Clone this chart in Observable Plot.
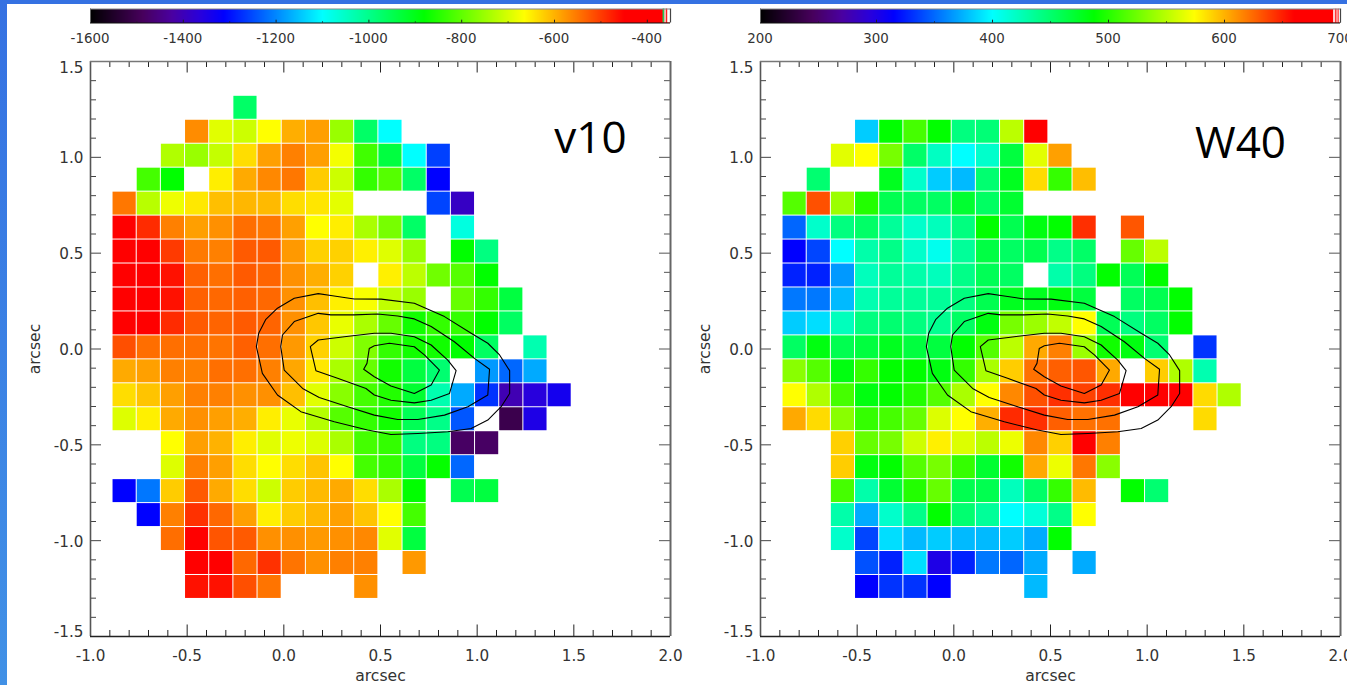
<!DOCTYPE html>
<html><head><meta charset="utf-8">
<script src="https://cdn.jsdelivr.net/npm/d3@7"></script>
<script src="https://cdn.jsdelivr.net/npm/@observablehq/plot@0.6"></script>
<style>
html,body{margin:0;padding:0;background:#fff;width:1347px;height:685px;overflow:hidden}
#stage{position:relative;width:1347px;height:685px;background:#fff}
#topband{position:absolute;left:0;top:0;width:1347px;height:4px;background:#3571e2}
#leftband{position:absolute;left:0;top:0;width:7px;height:685px;background:linear-gradient(#3571e2,#4191e6)}
svg{position:absolute;overflow:visible;background:transparent}
</style></head><body><div id="stage"><div id="topband"></div><div id="leftband"></div></div>
<script>
const _ = null;
// cell grid: left edge of each column, top edge of each row (arcsec), cell pitch 0.125
const colLeft = [-0.886,-0.761,-0.636,-0.511,-0.386,-0.261,-0.136,-0.011,0.114,0.239,0.364,0.489,0.614,0.739,0.864,0.989,1.114,1.239,1.364];
const rowTop = [1.321,1.196,1.071,0.946,0.821,0.696,0.571,0.446,0.321,0.196,0.071,-0.054,-0.179,-0.304,-0.429,-0.554,-0.679,-0.804,-0.929,-1.054,-1.179];
const cellSize = 0.125;

const v10 = [
[_,_,_,_,_,-969],
[_,_,_,-568,-690,-708,-665,-597,-584,-751,-969,-1100],
[_,_,-732,-751,-715,-636,-584,-558,-584,-674,-827,-936,-1100,-1259],
[_,-823,-881,_,-651,-593,-565,-550,-622,-708,-838,-809,-969,-1312],
[-550,-725,-679,-646,-611,-604,-607,-636,-644,-688,_,_,_,-1256,-1388],
[-430,-486,-558,-584,-571,-543,-550,-585,-665,-651,-737,-780,-969,_,-1073],
[-430,-430,-499,-553,-558,-526,-526,-579,-626,-626,-652,-692,-751,_,-881,-991],
[-430,-430,-464,-531,-544,-526,-534,-571,-597,-626,_,-652,-722,-786,-809,-881],
[-430,-430,-464,-531,-538,-531,-538,-571,-611,-652,-671,-718,-751,_,-795,-838,-936],
[-430,-430,-486,-526,-534,-526,-534,-571,-618,-684,-737,-795,-867,-838,-838,-881,-964],
[-517,-543,-544,-544,-548,-531,-544,-579,-626,-708,-773,-838,-867,-867,-881,-964,_,-1032],
[-593,-585,-558,-558,-544,-544,-558,-591,-646,-737,-795,-867,-936,-977,_,-1185,-1227,-1171],
[-636,-615,-584,-558,-558,-571,-571,-611,-690,-766,-823,-852,-923,-1032,-1171,-1270,-1406,-1362,-1337],
[-694,-652,-593,-571,-584,-597,-651,-684,-728,-809,-838,-867,-954,-998,-1241,_,-1506,-1350],
[_,_,-665,-584,-600,-651,-690,-679,-695,-737,-823,-838,-991,-991,-1481,-1481],
[_,_,-694,-558,-584,-636,-665,-636,-615,-665,-823,-838,-936,-878,-1227],
[-1312,-1213,-622,-526,-593,-636,-708,-622,-607,-593,-636,-737,-881,_,-950,-936],
[_,-1312,-558,-491,-538,-584,-652,-622,-604,-585,-615,-665,-823],
[_,_,-543,-430,-522,-526,-571,-571,-579,-571,-565,-690,-936],
[_,_,_,-430,-430,-538,-491,-548,-571,-558,-558,_,-579],
[_,_,_,-464,-464,-517,-548,_,_,_,-571]
];
const w40 = [
[],
[_,_,_,383,488,511,488,444,447,551,665],
[_,_,564,574,528,452,421,400,418,466,564,606],
[_,449,_,_,477,418,383,377,449,477,586,505,596],
[516,633,540,499,460,454,454,471,454,471],
[349,418,444,452,435,418,423,444,488,460,482,488,644,_,631],
[315,338,400,429,441,418,406,435,464,454,460,441,452,_,522,551],
[326,326,366,423,435,429,423,441,458,454,_,429,444,488,458,488],
[355,355,377,427,435,435,435,444,460,477,477,482,466,_,454,460,488],
[383,389,423,444,449,444,438,454,482,528,540,553,574,458,444,454,488],
[454,482,460,466,477,466,466,488,516,551,603,617,540,493,482,449,_,332],
[534,516,482,505,488,488,482,505,545,591,622,628,631,603,_,591,547,427],
[574,547,511,482,488,499,516,545,574,614,633,644,638,644,670,670,670,586,547],
[603,586,534,505,511,522,562,574,601,646,644,628,622,622,_,_,_,586],
[_,_,590,522,528,557,579,562,551,568,614,590,665,617],
[_,_,591,482,488,516,528,505,471,493,603,568,620,534],
[_,_,511,429,470,499,522,460,460,423,452,505,597,_,488,449],
[_,_,429,372,418,441,488,449,435,400,413,441,574],
[_,_,418,338,389,377,383,377,377,383,372,488],
[_,_,_,342,326,389,300,326,355,349,372,_,372],
[_,_,_,315,332,332,315,_,_,_,377]
];

// contours [x, y] in arcsec
const contourOuter = [[-0.142,0.012],[-0.130,0.082],[-0.093,0.155],[-0.033,0.213],[0.054,0.265],[0.178,0.289],[0.243,0.279],[0.364,0.261],[0.503,0.260],[0.675,0.239],[0.831,0.169],[0.969,0.082],[1.055,0.030],[1.116,-0.031],[1.168,-0.113],[1.168,-0.232],[1.124,-0.301],[1.055,-0.371],[0.969,-0.415],[0.848,-0.432],[0.693,-0.441],[0.554,-0.446],[0.433,-0.423],[0.261,-0.380],[0.088,-0.327],[-0.033,-0.240],[-0.111,-0.127],[-0.142,0.012]];
const contourSecond = [[-0.016,0.012],[-0.007,0.073],[0.054,0.143],[0.178,0.186],[0.243,0.178],[0.364,0.178],[0.485,0.183],[0.589,0.172],[0.675,0.157],[0.762,0.117],[0.882,0.038],[0.986,-0.049],[1.064,-0.106],[1.055,-0.240],[0.952,-0.301],[0.831,-0.345],[0.693,-0.368],[0.589,-0.368],[0.468,-0.345],[0.330,-0.301],[0.183,-0.253],[0.097,-0.206],[0.002,-0.110],[-0.016,0.012]];
const contourThird = [[0.137,0.012],[0.178,0.047],[0.313,0.064],[0.468,0.082],[0.554,0.082],[0.675,0.064],[0.762,0.021],[0.848,-0.058],[0.891,-0.113],[0.857,-0.232],[0.762,-0.267],[0.675,-0.281],[0.554,-0.267],[0.468,-0.240],[0.425,-0.206],[0.278,-0.153],[0.166,-0.113],[0.137,0.012]];
const contourInner = [[0.442,0.003],[0.468,0.017],[0.546,0.030],[0.675,0.012],[0.727,-0.031],[0.805,-0.110],[0.762,-0.188],[0.675,-0.232],[0.554,-0.193],[0.468,-0.145],[0.413,-0.106],[0.430,-0.075],[0.442,0.003]];
const contours = [contourOuter,contourSecond,contourThird,contourInner];

// colour bar
const stopColors = ["#000000","#47005c","#4a00a0","#2800dd","#0000ff","#00ffff","#00ff00","#ffff00","#ff0000","#ff0000"];
const v10Stops = [-1600,-1487.5,-1425,-1362.5,-1312.5,-1100,-881,-665,-450,-350];
const w40Stops = [200,245,270,295,315,400,487.5,574,660,700];
const v10Ticks = [-1600,-1400,-1200,-1000,-800,-600,-400];
const v10Minor = [-1500,-1300,-1100,-900,-700,-500];
const w40Ticks = [200,300,400,500,600,700];
const w40Minor = [250,350,450,550,650];
const v10Strips = [{a:-366,b:-362,c:"#22cc55"},{a:-362,b:-359,c:"#ffffff"},{a:-359,b:-356,c:"#ff2020"},{a:-356,b:-350,c:"#ffffff"}];
const w40Strips = [{a:694,b:696,c:"#ffd0d0"},{a:696,b:697,c:"#ff3030"},{a:697,b:698,c:"#ffffff"},{a:698,b:699,c:"#ff5050"},{a:699,b:700,c:"#ffffff"}];

// axes
const xMajor = [-1,-0.5,0,0.5,1,1.5,2];
const xMinor = [-0.9,-0.8,-0.7,-0.6,-0.4,-0.3,-0.2,-0.1,0.1,0.2,0.3,0.4,0.6,0.7,0.8,0.9,1.1,1.2,1.3,1.4,1.6,1.7,1.8,1.9];
const yMajor = [-1.5,-1,-0.5,0,0.5,1,1.5];
const yMinor = [-1.4,-1.3,-1.2,-1.1,-0.9,-0.8,-0.7,-0.6,-0.4,-0.3,-0.2,-0.1,0.1,0.2,0.3,0.4,0.6,0.7,0.8,0.9,1.1,1.2,1.3,1.4];

const FONT = "'DejaVu Sans',sans-serif";
const TEXT = "#333";
const LABEL = 15.2;
const stage = document.getElementById("stage");

function place(svg,left,top){svg.style.position="absolute";svg.style.left=left+"px";svg.style.top=top+"px";stage.appendChild(svg);}

function colorOpts(stops){return {type:"linear",domain:stops,range:stopColors,interpolate:"rgb"};}

function panel({rows,stops,left,marginLeft,width,tag,tagX,tagY}){
  const cells=[];
  rows.forEach((row,r)=>row.forEach((v,c)=>{ if(v!==null) cells.push({x1:colLeft[c],x2:colLeft[c]+cellSize,y1:rowTop[r],y2:rowTop[r]-cellSize,v}); }));
  const xMaj=11/193.33, xMin=6/193.33, yMaj=11.5/191.6, yMin=6/191.6;
  const tickMarks=[];
  const tc="#222";
  tickMarks.push(Plot.ruleX(xMajor,{x:d=>d,y1:-1.5,y2:-1.5+yMaj,stroke:tc,strokeWidth:1}));
  tickMarks.push(Plot.ruleX(xMinor,{x:d=>d,y1:-1.5,y2:-1.5+yMin,stroke:tc,strokeWidth:1}));
  tickMarks.push(Plot.ruleX(xMajor,{x:d=>d,y1:1.5,y2:1.5-yMaj,stroke:tc,strokeWidth:1}));
  tickMarks.push(Plot.ruleX(xMinor,{x:d=>d,y1:1.5,y2:1.5-yMin,stroke:tc,strokeWidth:1}));
  tickMarks.push(Plot.ruleY(yMajor,{y:d=>d,x1:-1,x2:-1+xMaj,stroke:"#444",strokeWidth:1}));
  tickMarks.push(Plot.ruleY(yMinor,{y:d=>d,x1:-1,x2:-1+xMin,stroke:"#444",strokeWidth:1}));
  tickMarks.push(Plot.ruleY(yMajor,{y:d=>d,x1:2,x2:2-xMaj,stroke:"#555",strokeWidth:1}));
  tickMarks.push(Plot.ruleY(yMinor,{y:d=>d,x1:2,x2:2-xMin,stroke:"#555",strokeWidth:1}));
  const svg=Plot.plot({
    width,height:685,marginLeft,marginRight:width-marginLeft-580,marginTop:61,marginBottom:49,
    style:{background:"transparent",fontFamily:FONT,color:TEXT},
    x:{domain:[-1,2],axis:null},y:{domain:[-1.5,1.5],axis:null},
    color:colorOpts(stops),
    marks:[
      Plot.rect(cells,{x1:"x1",x2:"x2",y1:"y1",y2:"y2",fill:d=>d.v,inset:0.5}),
      ...contours.map(c=>Plot.line(c,{x:d=>d[0],y:d=>d[1],stroke:"#000",strokeWidth:1.1,curve:"linear"})),
      ...tickMarks,
      Plot.ruleX([-1],{stroke:"#555",strokeWidth:1.6}),
      Plot.ruleX([2],{stroke:"#666",strokeWidth:2}),
      Plot.ruleY([-1.5],{stroke:"#222",strokeWidth:1.3}),
      Plot.ruleY([1.5],{stroke:"#777",strokeWidth:1.4}),
      Plot.text(xMajor,{x:d=>d,y:-1.5,text:d=>d.toFixed(1),dy:19.5,fontSize:LABEL,fill:TEXT}),
      Plot.text(yMajor.filter(d=>Math.abs(d)<1.5),{x:-1,y:d=>d,text:d=>d.toFixed(1),dx:-7,dy:1,textAnchor:"end",fontSize:LABEL,fill:TEXT}),
      Plot.text([1.5],{x:-1,y:d=>d,text:d=>d.toFixed(1),dx:-7,dy:6.5,textAnchor:"end",fontSize:LABEL,fill:TEXT}),
      Plot.text([-1.5],{x:-1,y:d=>d,text:d=>d.toFixed(1),dx:-7,dy:-4.5,textAnchor:"end",fontSize:LABEL,fill:TEXT}),
      Plot.text(["arcsec"],{x:0.5,y:-1.5,dy:39.5,text:d=>d,fontSize:15.6,fill:TEXT}),
      Plot.text(["arcsec"],{x:-1,y:0,dx:-56,text:d=>d,rotate:-90,fontSize:15.6,fill:TEXT}),
      Plot.text([tag],{x:tagX,y:tagY,text:d=>d,fontSize:44,fontFamily:"'Open Sans',sans-serif",fill:"#000"})
    ]
  });
  place(svg,left,0);
}

function colorbar({stops,ticks,minor,strips,left,marginLeft,width}){
  const lo=stops[0],hi=stops[stops.length-1],step=(hi-lo)/580;
  const ramp=d3.range(lo,hi,step);
  const svg=Plot.plot({
    width,height:46,marginLeft,marginRight:width-marginLeft-580,marginTop:8.5,marginBottom:23.5,
    style:{background:"transparent",fontFamily:FONT,color:TEXT},
    x:{domain:[lo,hi],axis:null},y:{domain:[0,1],axis:null},
    color:colorOpts(stops),
    marks:[
      Plot.rect(ramp,{x1:d=>d,x2:d=>d+step,y1:0,y2:1,fill:d=>d,shapeRendering:"crispEdges"}),
      ...strips.map(s=>Plot.rect([s],{x1:"a",x2:"b",y1:0,y2:1,fill:s.c})),
      Plot.ruleX(ticks,{x:d=>d,y1:0,y2:0.2,stroke:"#222",strokeWidth:1}),
      Plot.ruleX(minor,{x:d=>d,y1:0,y2:0.08,stroke:"#222",strokeWidth:1}),
      Plot.ruleY([0],{stroke:"#111",strokeWidth:1.2}),
      Plot.ruleY([1],{stroke:"#888",strokeWidth:1.2}),
      Plot.ruleX([lo],{stroke:"#666",strokeWidth:1}),
      Plot.ruleX([hi],{stroke:"#444",strokeWidth:1.2}),
      Plot.text(ticks,{x:d=>d,y:0,text:d=>String(d),dx:-0.5,dy:15.5,fontSize:13.4,fill:TEXT})
    ]
  });
  place(svg,left,0);
}

colorbar({stops:v10Stops,ticks:v10Ticks,minor:v10Minor,strips:v10Strips,left:0,marginLeft:90,width:680});
colorbar({stops:w40Stops,ticks:w40Ticks,minor:w40Minor,strips:w40Strips,left:680,marginLeft:80,width:667});
panel({rows:v10,stops:v10Stops,left:0,marginLeft:90,width:680,tag:"v10",tagX:1.586,tagY:1.097});
panel({rows:w40,stops:w40Stops,left:680,marginLeft:80,width:667,tag:"W40",tagX:1.483,tagY:1.071});
</script></body></html>
